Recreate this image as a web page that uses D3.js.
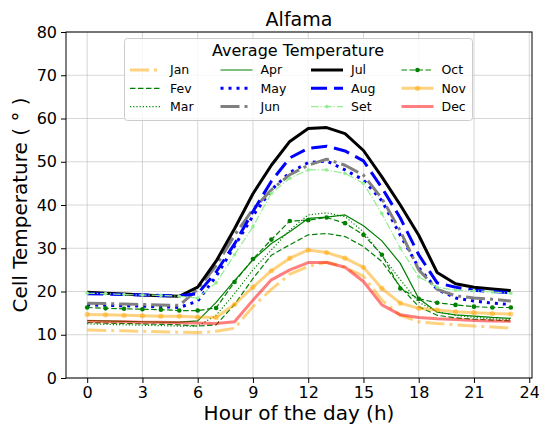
<!DOCTYPE html>
<html>
<head>
<meta charset="utf-8">
<script src="https://cdn.jsdelivr.net/npm/d3@7"></script>
<style>
body { margin: 0; background: #fff; }
text { font-family: "DejaVu Sans", sans-serif; fill: #000; }
</style>
</head>
<body>
<svg width="539" height="427"></svg>
<script>
// dados
const hours = [0,1,2,3,4,5,6,7,8,9,10,11,12,13,14,15,16,17,18,19,20,21,22,23];
const xTicks = [0,3,6,9,12,15,18,21,24];
const yTicks = [0,10,20,30,40,50,60,70,80];
const months = ["Jan","Fev","Mar","Apr","May","Jun","Jul","Aug","Set","Oct","Nov","Dec"];

const jan = [11.1,11.0,10.9,10.8,10.7,10.6,10.5,10.8,11.5,16.5,20.5,24.0,25.8,26.8,25.6,23.5,18.0,14.5,13.0,12.6,12.3,12.0,11.8,11.5];
const fev = [12.8,12.7,12.6,12.5,12.4,12.3,12.0,12.3,17.0,23.0,28.4,30.8,33.1,33.4,32.7,30.4,26.9,21.1,16.5,14.5,13.9,13.6,13.4,13.2];
const mar = [12.5,12.4,12.3,12.2,12.1,12.0,12.0,14.5,19.5,25.0,29.6,34.2,37.7,38.2,37.3,33.8,28.4,22.7,17.5,15.3,14.5,14.0,13.7,13.5];
const apr = [13.3,13.2,13.1,13.0,12.9,12.9,13.2,17.5,22.5,27.3,31.1,33.8,36.9,37.2,37.7,35.2,31.7,26.5,18.4,15.2,14.6,14.3,14.0,13.8];
const may = [16.9,16.8,16.7,16.6,16.5,16.3,17.8,23.5,30.5,37.5,43.5,47.5,49.8,50.2,48.1,45.8,41.0,33.0,25.5,20.5,18.5,17.8,17.3,17.0];
const jun = [17.3,17.2,17.1,17.0,16.9,16.8,20.5,26.0,33.0,39.0,43.5,47.0,49.2,50.6,49.2,46.9,41.5,34.0,25.0,20.5,19.0,18.5,18.2,17.8];
const jul = [19.8,19.6,19.4,19.2,19.0,18.9,21.0,27.0,34.5,42.6,49.2,54.7,57.7,57.9,56.5,52.6,46.5,40.0,33.0,24.4,21.8,21.0,20.6,20.2];
const aug = [19.5,19.4,19.3,19.2,19.1,19.0,19.5,24.5,31.0,38.5,45.5,50.9,53.1,53.6,52.5,50.2,44.0,37.0,28.5,22.0,21.0,20.3,20.0,19.7];
const set = [19.6,19.5,19.3,19.2,19.1,18.9,18.5,22.0,28.5,35.0,42.7,46.2,48.1,48.1,47.3,45.0,38.0,30.0,23.4,21.0,20.3,20.2,19.9,19.6];
const oct = [16.3,16.1,16.0,15.9,15.8,15.6,15.6,16.2,22.2,27.5,32.0,36.3,36.5,37.1,35.8,33.1,28.5,20.7,18.3,17.4,16.9,16.5,16.3,16.3];
const nov = [14.7,14.6,14.5,14.4,14.3,14.3,14.1,14.0,17.0,21.0,24.8,27.7,29.6,29.0,27.7,25.6,20.7,17.3,16.1,15.7,15.3,15.1,14.9,14.8];
const dec = [13.1,13.0,13.0,12.9,12.9,12.8,12.7,12.6,13.0,18.0,22.7,25.0,26.7,26.7,25.6,22.3,16.9,14.6,14.0,13.7,13.5,13.3,13.2,13.1];

const series = [jan, fev, mar, apr, may, jun, jul, aug, set, oct, nov, dec];

// estilos de cada mês (cor, espessura, tracejado, marcador)
const styles = [
    {color: "orange", op: 0.5, w: 3, dash: "19,5,3,5"},
    {color: "green", op: 1, w: 1.2, dash: "5.5,2.5"},
    {color: "green", op: 1, w: 1.2, dash: "1.2,2"},
    {color: "green", op: 1, w: 1.2, dash: null},
    {color: "blue", op: 1, w: 3, dash: "3,5"},
    {color: "gray", op: 1, w: 3, dash: "19,5,3,5"},
    {color: "black", op: 1, w: 3, dash: null},
    {color: "blue", op: 1, w: 3, dash: "16,7"},
    {color: "lightgreen", op: 1, w: 1.2, dash: "7.7,2,1.2,2", marker: 1.8},
    {color: "green", op: 1, w: 1.2, dash: "5.5,2.5", marker: 2.3},
    {color: "orange", op: 0.5, w: 3, dash: null, marker: 2.6},
    {color: "red", op: 0.5, w: 3, dash: null}
];

const attr_area = {left: 66, right: 532, top: 32, bottom: 378};

function drawChart() {
    let svg = d3.select("svg");

    let scX = d3.scaleLinear().domain([-1.15, 24.15]).range([attr_area.left, attr_area.right]);
    let scY = d3.scaleLinear().domain([0, 80]).range([attr_area.bottom, attr_area.top]);

    // grade
    let grid = svg.append("g");
    grid.selectAll(".gx").data(xTicks).enter().append("line")
        .attr("x1", d => scX(d)).attr("x2", d => scX(d))
        .attr("y1", attr_area.top).attr("y2", attr_area.bottom)
        .attr("stroke", "#b0b0b0").attr("stroke-opacity", 0.5).attr("stroke-width", 1);
    grid.selectAll(".gy").data(yTicks).enter().append("line")
        .attr("y1", d => scY(d)).attr("y2", d => scY(d))
        .attr("x1", attr_area.left).attr("x2", attr_area.right)
        .attr("stroke", "#b0b0b0").attr("stroke-opacity", 0.5).attr("stroke-width", 1);

    // eixos
    let axisX = d3.axisBottom(scX).tickValues(xTicks).tickSize(5).tickSizeOuter(0).tickPadding(4);
    let axisY = d3.axisLeft(scY).tickValues(yTicks).tickSize(5).tickSizeOuter(0).tickPadding(4);

    let gx = svg.append("g")
        .attr("transform", `translate(0, ${attr_area.bottom})`)
        .call(axisX);
    let gy = svg.append("g")
        .attr("transform", `translate(${attr_area.left}, 0)`)
        .call(axisY);
    [gx, gy].forEach(g => {
        g.select(".domain").remove();
        g.selectAll("text").style("font-size", "16px").style("font-family", "DejaVu Sans");
        g.selectAll("line").attr("stroke", "#000").attr("stroke-width", 1);
    });

    // linhas
    let line = d3.line().x((d, i) => scX(hours[i])).y(d => scY(d));
    series.forEach((values, k) => {
        let st = styles[k];
        svg.append("path")
            .datum(values)
            .attr("d", line)
            .attr("fill", "none")
            .attr("stroke", st.color)
            .attr("stroke-opacity", st.op)
            .attr("stroke-width", st.w)
            .attr("stroke-dasharray", st.dash)
            .attr("stroke-linejoin", "round");
        if (st.marker) {
            svg.selectAll(".m" + k).data(values).enter().append("circle")
                .attr("cx", (d, i) => scX(hours[i]))
                .attr("cy", d => scY(d))
                .attr("r", st.marker)
                .attr("fill", st.color)
                .attr("fill-opacity", st.op);
        }
    });

    // moldura
    svg.append("rect")
        .attr("x", attr_area.left).attr("y", attr_area.top)
        .attr("width", attr_area.right - attr_area.left)
        .attr("height", attr_area.bottom - attr_area.top)
        .attr("fill", "none").attr("stroke", "#000").attr("stroke-width", 1);

    // títulos
    svg.append("text")
        .attr("x", (attr_area.left + attr_area.right) / 2).attr("y", 26)
        .attr("text-anchor", "middle").style("font-size", "19px")
        .text("Alfama");
    svg.append("text")
        .attr("x", (attr_area.left + attr_area.right) / 2).attr("y", 420)
        .attr("text-anchor", "middle").style("font-size", "20px")
        .text("Hour of the day (h)");
    svg.append("text")
        .attr("transform", `translate(27, ${(attr_area.top + attr_area.bottom) / 2}) rotate(-90)`)
        .attr("text-anchor", "middle").style("font-size", "20px")
        .text("Cell Temperature ( ° )");

    drawLegend(svg);
}

function drawLegend(svg) {
    let lg = svg.append("g");
    lg.append("rect")
        .attr("x", 124.5).attr("y", 38.5).attr("width", 348).attr("height", 82)
        .attr("rx", 3)
        .attr("fill", "#fff").attr("fill-opacity", 0.8)
        .attr("stroke", "#ccc").attr("stroke-width", 1);
    lg.append("text")
        .attr("x", 298).attr("y", 56)
        .attr("text-anchor", "middle").style("font-size", "16px")
        .text("Average Temperature");

    const colX = [130, 220.5, 311, 401.5];
    const rowY = [70, 88.3, 106.6];
    months.forEach((m, k) => {
        let st = styles[k];
        let x0 = colX[Math.floor(k / 3)];
        let y0 = rowY[k % 3];
        lg.append("line")
            .attr("x1", x0).attr("x2", x0 + 32)
            .attr("y1", y0).attr("y2", y0)
            .attr("stroke", st.color)
            .attr("stroke-opacity", st.op)
            .attr("stroke-width", st.w)
            .attr("stroke-dasharray", st.dash);
        if (st.marker) {
            lg.append("circle")
                .attr("cx", x0 + 16).attr("cy", y0).attr("r", st.marker)
                .attr("fill", st.color).attr("fill-opacity", st.op);
        }
        lg.append("text")
            .attr("x", x0 + 40).attr("y", y0)
            .attr("dy", "0.35em")
            .style("font-size", "12.5px")
            .text(m);
    });
}

drawChart();
</script>
</body>
</html>
